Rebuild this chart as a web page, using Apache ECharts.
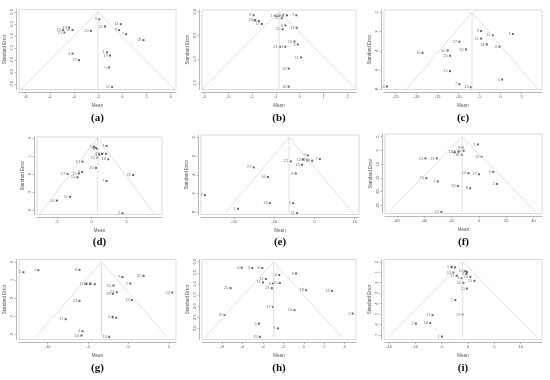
<!DOCTYPE html>
<html>
<head>
<meta charset="utf-8">
<script src="https://cdn.jsdelivr.net/npm/echarts@6/dist/echarts.min.js"></script>
<style>html,body{margin:0;padding:0;background:#fff}#c{width:550px;height:380px}</style>
</head>
<body>
<div id="c"></div>
<script>
// ---- Panel (a) ----
const aStudy = ['9','21','14','8','7','18','20','13','16','12','15','3','17','1','19','5','11'];
const aMean = [-1.91,-1.43,-0.13,-0.27,0.31,1.75,-2.6,-4.40,-4.12,-4.90,-4.79,-4.12,-3.6,-1.27,-1.02,-1.1,-0.85];
const aSE = [0.31,0.61,0.51,0.76,0.93,1.18,0.79,0.65,0.75,0.76,0.86,1.74,2.01,1.69,1.82,2.32,3.14];
const aCenter = -2.03, aSEmax = 3.24;
const aXTicks = [-8,-6,-4,-2,0,2,4];
const aYTicks = [0,0.5,1,1.5,2,2.5,3];
// ---- Panel (b) ----
const bStudy = ['8','1','4','12','9','7','22','16','15','17','6','13','20','10','5','21','3','11','19','18'];
const bMean = [-1.92,-1.03,-0.85,-0.71,-0.53,-0.14,-0.75,-1.86,-1.71,-1.58,-0.6,-0.125,-0.71,-0.22,-0.08,-0.83,-0.6,0.06,-0.46,-0.46];
const bSE = [0.077,0.085,0.085,0.085,0.077,0.077,0.14,0.176,0.197,0.26,0.29,0.34,0.373,0.63,0.69,0.74,0.74,0.965,1.2,1.58];
const bCenter = -0.86, bSEmax = 1.64;
const bXTicks = [-4,-3,-2,-1,0,1,2];
const bYTicks = [0,0.5,1,1.5];
// ---- Panel (c) ----
const cStudy = ['3','9','12','1','11','14','8','27','20','10','16','25','15','7','13','5'];
const cMean = [-27.1,-4.65,-1.86,2.93,-4.65,-3.29,-0.26,-9.84,-8.24,-12.6,-18.6,-12.07,-12.07,-9.84,-7.12,0.38];
const cSE = [7.72,1.95,2.4,2.26,2.73,3.34,3.58,3.06,3.86,3.97,4.21,4.52,6.12,7.48,7.79,6.99];
const cCenter = -6.8, cSEmax = 8.0;
const cXTicks = [-25,-20,-15,-10,-5,0,5,10];
const cYTicks = [0,2,4,6,8];
// ---- Panel (d) ----
const dStudy = ['4','1','8','6','5','18','9','12','16','14','20','17','3','19','15','22','7','11','10','2'];
const dMean = [2.14,0.33,0.62,0.81,1.1,1.48,2.05,0.81,2.38,-1.33,0.62,-3.48,-1.38,-1.86,-2.05,5.95,2.14,-3.1,-5.0,4.43];
const dSE = [0.44,0.48,0.55,0.61,0.92,0.88,0.87,1.09,1.18,1.31,1.66,1.99,1.88,1.97,2.18,2.05,2.38,3.26,3.47,4.17];
const dCenter = 0.81, dSEmax = 4.2;
const dXTicks = [-5,0,5];
const dYTicks = [0,1,2,3,4];
// ---- Panel (e) ----
const eStudy = ['3','1','13','5','11','16','27','21','8','10','9','12','14','20','7'];
const eMean = [-27.2,-19.0,-11.1,-5.3,-4.3,-11.55,-15.1,-5.9,-4.65,-3.08,-1.66,-2.83,-1.75,-0.58,1.33];
const eSE = [6.18,7.64,7.04,7.04,8.1,4.25,3.21,2.57,3.86,2.93,1.93,2.36,2.39,2.5,2.32];
const eCenter = -6.32, eSEmax = 8.14;
const eXTicks = [-20,-10,0,10];
const eYTicks = [0,2,4,6,8];
// ---- Panel (f) ----
const fStudy = ['1','9','10','11','16','18','19','13','21','6','14','17','15','7','2','20','8','12'];
const fMean = [-0.7,-12.0,-11.2,-17.8,-14.9,-12.5,2.0,-39.1,-30.8,10.5,-7.6,0,-38.4,-30.1,13.2,-15.4,-6.4,-27.4];
const fSE = [2.8,3.9,5.1,5.7,5.5,6.6,7.3,7.9,7.9,12.8,13.3,13.7,15.1,16.3,17.2,18.0,18.8,27.4];
const fCenter = -12.2, fSEmax = 27.3;
const fXTicks = [-60,-40,-20,0,20,40];
const fYTicks = [0,5,10,15,20,25];
// ---- Panel (g) ----
const gStudy = ['3','1','8','9','20','7','12','16','11','15','21','18','14','23','19','17','5','6','4','10','13'];
const gMean = [-13.0,-11.16,-6.07,-0.74,1.86,0.21,-5.25,-4.75,-4.17,-1.86,-1.45,-1.94,5.41,-6.07,0.41,-7.77,-1.98,-1.53,-5.7,-5.83,-2.4];
const gSE = [0.57,0.46,0.44,0.84,0.77,1.19,1.21,1.21,1.23,1.3,1.67,1.76,1.69,2.15,2.11,3.16,3.03,3.08,3.82,4.06,4.13];
const gCenter = -3.35, gSEmax = 4.13;
const gXTicks = [-10,-5,0,5];
const gYTicks = [0,1,2,3,4];
// ---- Panel (h) ----
const hStudy = ['8','3','6','14','9','12','11','4','10','21','20','18','13','17','16','19','2','5','1','15'];
const hMean = [-6.07,-5.03,-4.06,-2.4,-0.75,-3.7,-3.99,-3.02,-2.34,-3.12,-7.14,0.23,2.76,-3.02,-0.91,-7.73,4.77,-4.38,-2.53,-4.29];
const hSE = [0.27,0.285,0.285,0.6,0.53,0.78,0.93,0.98,0.96,1.19,1.19,1.28,1.31,2.03,2.18,2.4,2.33,2.79,3.0,3.38];
const hCenter = -2.95, hSEmax = 3.41;
const hXTicks = [-8,-6,-4,-2,0,2,4];
const hYTicks = [0,0.5,1,1.5,2,2.5,3];
// ---- Panel (i) ----
const iStudy = ['5','6','12','9','4','13','11','14','3','15','10','20','7','17','19','2','18','1'];
const iMean = [-3.12,-2.48,-0.51,-0.19,-0.32,-2.8,-2.16,0.45,-1.21,1.21,-0.89,-0.19,-2.42,-6.74,-1.02,-9.92,-7.19,-4.96];
const iSE = [0.48,0.54,0.89,0.99,1.15,1.02,1.34,1.44,1.57,1.82,2.01,2.56,3.67,5.11,5.05,5.91,5.88,7.16];
const iCenter = -1.02, iSEmax = 7.25;
const iXTicks = [-15,-10,-5,0,5,10];
const iYTicks = [0,1,2,3,4,5,6,7];

const panelNames = ['(a)','(b)','(c)','(d)','(e)','(f)','(g)','(h)','(i)'];

const panels = [
  {study:aStudy, mean:aMean, se:aSE, center:aCenter, seMax:aSEmax, xt:aXTicks, yt:aYTicks, yDec:1},
  {study:bStudy, mean:bMean, se:bSE, center:bCenter, seMax:bSEmax, xt:bXTicks, yt:bYTicks, yDec:1},
  {study:cStudy, mean:cMean, se:cSE, center:cCenter, seMax:cSEmax, xt:cXTicks, yt:cYTicks, yDec:0},
  {study:dStudy, mean:dMean, se:dSE, center:dCenter, seMax:dSEmax, xt:dXTicks, yt:dYTicks, yDec:0},
  {study:eStudy, mean:eMean, se:eSE, center:eCenter, seMax:eSEmax, xt:eXTicks, yt:eYTicks, yDec:0},
  {study:fStudy, mean:fMean, se:fSE, center:fCenter, seMax:fSEmax, xt:fXTicks, yt:fYTicks, yDec:0},
  {study:gStudy, mean:gMean, se:gSE, center:gCenter, seMax:gSEmax, xt:gXTicks, yt:gYTicks, yDec:0},
  {study:hStudy, mean:hMean, se:hSE, center:hCenter, seMax:hSEmax, xt:hXTicks, yt:hYTicks, yDec:1},
  {study:iStudy, mean:iMean, se:iSE, center:iCenter, seMax:iSEmax, xt:iXTicks, yt:iYTicks, yDec:0}
];

// layout (pixel boxes) and axis ranges
const layout = [
  {l:19, t:9.5, r:176, b:89.5, xmin:-8.55, xmax:4.44, ymin:-0.1, ymax:3.24},
  {l:202, t:10, r:356, b:89.5, xmin:-4.08, xmax:2.35, ymin:-0.035, ymax:1.64},
  {l:384, t:10, r:542, b:89.5, xmin:-27.8, xmax:9.88, ymin:-0.24, ymax:8.03},
  {l:37, t:137, r:162, b:214.5, xmin:-7.86, xmax:10.1, ymin:-0.055, ymax:4.24},
  {l:201, t:135, r:359, b:214.5, xmin:-28.2, xmax:11.06, ymin:-0.25, ymax:8.25},
  {l:385, t:134, r:542, b:213.5, xmin:-68.7, xmax:46.2, ymin:-1.0, ymax:28.0},
  {l:19, t:259.5, r:176, b:339.5, xmin:-13.55, xmax:5.87, ymin:-0.13, ymax:4.28},
  {l:202, t:259.5, r:356, b:339.5, xmin:-9.94, xmax:5.1, ymin:-0.1, ymax:3.5},
  {l:384, t:259.5, r:542, b:339.5, xmin:-15.97, xmax:14.06, ymin:-0.22, ymax:7.44}
];
const labelY = [118, 118, 118, 242, 242, 242, 368, 368, 368];

const grid = [], xAxis = [], yAxis = [], series = [], graphic = [];
const axisCol = '#8a8a8a', txtCol = '#555', lightCol = '#d8d8d8';

panels.forEach((p, k) => {
  const L = layout[k];
  grid.push({left:L.l, top:L.t, width:L.r-L.l, height:L.b-L.t, show:true,
             borderColor:'#d2d2d2', borderWidth:0.8, backgroundColor:'#fff'});
  xAxis.push({gridIndex:k, type:'value', min:L.xmin, max:L.xmax, offset:3,
    axisLine:{show:true, onZero:false, lineStyle:{color:axisCol, width:0.6}},
    axisTick:{show:true, customValues:p.xt, length:1.5, lineStyle:{color:axisCol, width:0.6}},
    axisLabel:{customValues:p.xt, fontSize:4, color:txtCol, margin:2, fontFamily:'Liberation Sans'},
    splitLine:{show:false},
    name:'Mean', nameLocation:'middle', nameGap:11,
    nameTextStyle:{fontSize:4.5, color:txtCol, fontFamily:'Liberation Sans'}});
  yAxis.push({gridIndex:k, type:'value', inverse:true, min:L.ymin, max:L.ymax, offset:3,
    axisLine:{show:true, onZero:false, lineStyle:{color:axisCol, width:0.6}},
    axisTick:{show:true, customValues:p.yt, length:1.5, lineStyle:{color:axisCol, width:0.6}},
    axisLabel:{customValues:p.yt, fontSize:4, color:txtCol, margin:2, rotate:90,
      fontFamily:'Liberation Sans', formatter:v => Number(v).toFixed(p.yDec)},
    splitLine:{show:false},
    name:'Standard Error', nameLocation:'middle', nameGap:9, nameRotate:90,
    nameTextStyle:{fontSize:4.5, color:txtCol, fontFamily:'Liberation Sans'}});
  // funnel (pseudo 95% CI region) derived from centre and max SE
  series.push({type:'line', xAxisIndex:k, yAxisIndex:k, silent:true, symbol:'none',
    lineStyle:{color:lightCol, width:0.8},
    data:[[p.center-1.96*p.seMax, p.seMax],[p.center,0],[p.center+1.96*p.seMax, p.seMax]]});
  series.push({type:'line', xAxisIndex:k, yAxisIndex:k, silent:true, symbol:'none',
    lineStyle:{color:lightCol, width:0.8},
    data:[[p.center,0],[p.center,p.seMax]]});
  series.push({type:'scatter', xAxisIndex:k, yAxisIndex:k, symbol:'rect', symbolSize:2,
    itemStyle:{color:'#444'},
    label:{show:true, position:'left', distance:1.2, fontSize:4, color:txtCol,
      fontFamily:'Liberation Sans', formatter:prm => prm.value[2]},
    data:p.mean.map((m, j) => [m, p.se[j], p.study[j]])});
  graphic.push({type:'text', x:(L.l+L.r)/2, y:labelY[k],
    style:{text:panelNames[k], fill:'#111', font:'bold 11px "Liberation Serif"',
      textAlign:'center', textVerticalAlign:'middle'}});
});

const chart = echarts.init(document.getElementById('c'), null, {renderer:'canvas'});
chart.setOption({animation:false, grid, xAxis, yAxis, series, graphic});
</script>
</body>
</html>
